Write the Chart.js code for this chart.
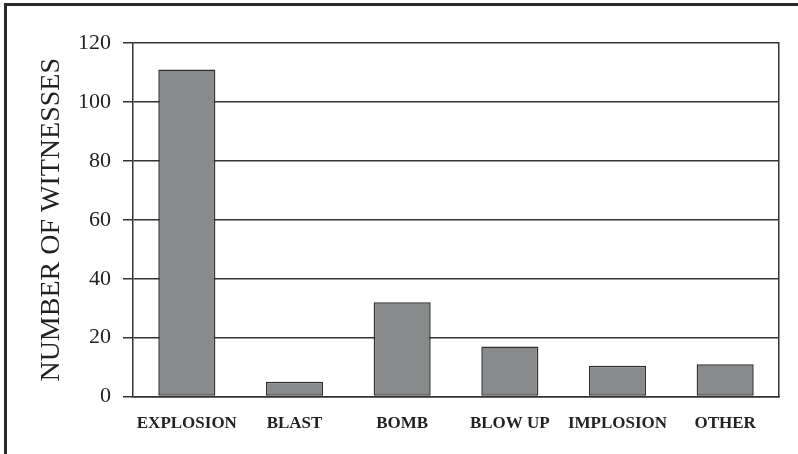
<!DOCTYPE html>
<html>
<head>
<meta charset="utf-8">
<script src="https://cdn.jsdelivr.net/npm/chart.js@4"></script>
<style>
  html, body { margin: 0; padding: 0; background: #fff; }
  #wrap { position: relative; width: 798px; height: 454px; overflow: hidden; }
  #frame { position: absolute; left: 4px; top: 3px; width: 800px; height: 448px;
           border-left: 3px solid #2a2a2a; border-top: 3px solid #2a2a2a; border-bottom: 2px solid #c8c8c8; }
  canvas { position: absolute; left: 0; top: 0; }
</style>
</head>
<body>
<div id="wrap">
  <div id="frame"></div>
  <canvas id="chartCanvas" width="798" height="454"></canvas>
</div>
<script>
const categories = ['EXPLOSION', 'BLAST', 'BOMB', 'BLOW UP', 'IMPLOSION', 'OTHER'];
const witnesses = [111, 5, 32, 17, 10.5, 11];
const yTicks = [0, 20, 40, 60, 80, 100, 120];

const serif = '"Liberation Serif", "DejaVu Serif", serif';
const ink = '#333';

const canvas = document.getElementById('chartCanvas').getContext('2d');

const chart = new Chart(canvas, {
    type: 'bar',
    data: {
        labels: categories,
        datasets: [{
            label: 'Number of witnesses',
            data: witnesses,
            backgroundColor: '#898a8b',
            borderColor: '#2e2e2e',
            borderWidth: 1.5,
            borderSkipped: false,
            barPercentage: 0.53,
            categoryPercentage: 1
        }]
    },
    options: {
        responsive: false,
        animation: false,
        layout: { padding: { left: 30, top: 43, right: 11, bottom: 3 } },
        plugins: { legend: { display: false }, tooltip: { enabled: false } },
        scales: {
            x: {
                grid: { display: false, drawTicks: false },
                border: { display: true, color: ink, width: 1.5 },
                ticks: { color: '#222', padding: 17, maxRotation: 0, autoSkip: false,
                         font: { family: serif, size: 17, weight: 'bold' } }
            },
            y: {
                min: yTicks[0],
                max: yTicks[yTicks.length - 1],
                afterBuildTicks: axis => { axis.ticks = yTicks.map(v => ({ value: v })); },
                grid: { color: ink, lineWidth: 1.5, tickLength: 10 },
                border: { display: true, color: ink, width: 1.5 },
                ticks: { color: '#222', padding: 12, font: { family: serif, size: 22 } },
                title: { display: true, text: 'NUMBER OF WITNESSES', color: '#222',
                         padding: { top: 8, bottom: 0 },
                         font: { family: serif, size: 28, lineHeight: 1 } }
            },
            yRight: {
                position: 'right',
                min: 0, max: 120,
                grid: { display: false },
                border: { display: true, color: ink, width: 1.5 },
                ticks: { display: false }
            }
        }
    }
});
</script>
</body>
</html>
